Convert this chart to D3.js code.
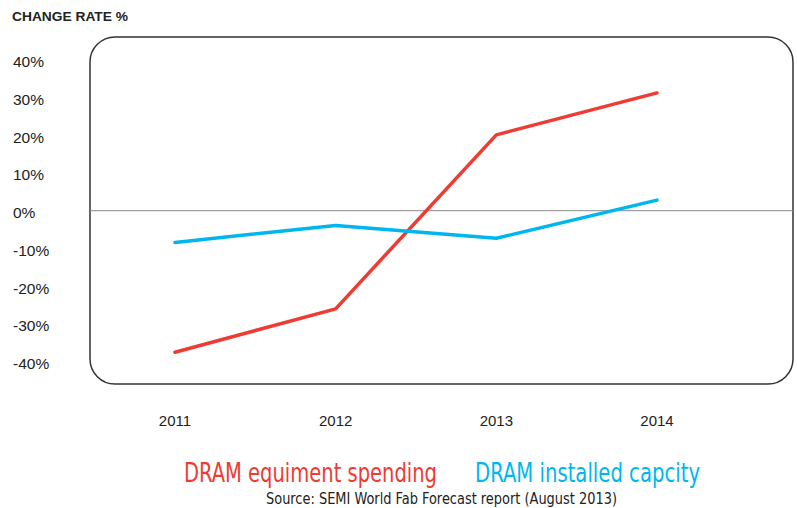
<!DOCTYPE html>
<html>
<head>
<meta charset="utf-8">
<script src="https://cdn.jsdelivr.net/npm/d3@7"></script>
<style>
  body { margin: 0; background: #fff; }
  svg { display: block; }
</style>
</head>
<body>
<div class="chart"></div>
<script>
var years = ["2011", "2012", "2013", "2014"];
var spending = [-37.5, -26.0, 20.1, 31.2];
var capacity = [-8.4, -3.9, -7.3, 2.8];
var yTicks = [40, 30, 20, 10, 0, -10, -20, -30, -40];
var seriesNames = ["DRAM equiment spending", "DRAM installed capcity"];
var seriesColors = ["#ee3b33", "#00b6ef"];

var width = 797,
    height = 508;

var narrow = "'Liberation Sans Narrow', 'DejaVu Sans Condensed', 'Liberation Sans', sans-serif";

var svg = d3.select(".chart").append("svg")
    .attr("width", width)
    .attr("height", height);

var x = d3.scalePoint()
    .domain(years)
    .range([175, 657]);

var y = d3.scaleLinear()
    .domain([-40, 40])
    .range([361.7, 59.7]);

// rounded frame
svg.append("rect")
    .attr("x", 90)
    .attr("y", 37)
    .attr("width", 703)
    .attr("height", 347)
    .attr("rx", 25)
    .attr("fill", "none")
    .attr("stroke", "#333")
    .attr("stroke-width", 1.5);

// zero line
svg.append("line")
    .attr("x1", 90)
    .attr("x2", 793)
    .attr("y1", y(0))
    .attr("y2", y(0))
    .attr("stroke", "#8a8a8a")
    .attr("stroke-width", 1);

// title
svg.append("text")
    .attr("x", 12)
    .attr("y", 21)
    .attr("font-family", "'Liberation Sans', Arial, sans-serif")
    .attr("font-weight", "bold")
    .attr("font-size", 13.5)
    .attr("textLength", 116)
    .attr("lengthAdjust", "spacingAndGlyphs")
    .attr("fill", "#222")
    .text("CHANGE RATE %");

// y labels
svg.append("g").selectAll("text")
    .data(yTicks)
    .enter()
    .append("text")
    .attr("x", 13)
    .attr("y", function(d) { return y(d) + 2; })
    .attr("dy", "0.35em")
    .attr("font-family", "'Liberation Sans', Arial, sans-serif")
    .attr("font-size", 15.5)
    .attr("fill", "#222")
    .text(function(d) { return d + "%"; });

// x labels
svg.append("g").selectAll("text")
    .data(years)
    .enter()
    .append("text")
    .attr("x", function(d) { return x(d); })
    .attr("y", 426)
    .attr("text-anchor", "middle")
    .attr("font-family", "'Liberation Sans', Arial, sans-serif")
    .attr("font-size", 15)
    .attr("fill", "#222")
    .text(function(d) { return d; });

var line = d3.line()
    .x(function(d, i) { return x(years[i]); })
    .y(function(d) { return y(d); });

[spending, capacity].forEach(function(series, i) {
  svg.append("path")
      .datum(series)
      .attr("d", line)
      .attr("fill", "none")
      .attr("stroke", seriesColors[i])
      .attr("stroke-width", 3.5)
      .attr("stroke-linecap", "round")
      .attr("stroke-linejoin", "round");
});

// legend
var legendX = [184, 475],
    legendW = [253, 225];

svg.append("g").selectAll("text")
    .data(seriesNames)
    .enter()
    .append("text")
    .attr("x", function(d, i) { return legendX[i]; })
    .attr("y", 482)
    .attr("font-family", narrow)
    .attr("font-size", 26)
    .attr("textLength", function(d, i) { return legendW[i]; })
    .attr("lengthAdjust", "spacingAndGlyphs")
    .attr("fill", function(d, i) { return seriesColors[i]; })
    .text(function(d) { return d; });

svg.append("text")
    .attr("x", 266)
    .attr("y", 504)
    .attr("font-family", narrow)
    .attr("font-size", 15.5)
    .attr("textLength", 351)
    .attr("lengthAdjust", "spacingAndGlyphs")
    .attr("fill", "#222")
    .text("Source: SEMI World Fab Forecast report (August 2013)");
</script>
</body>
</html>
